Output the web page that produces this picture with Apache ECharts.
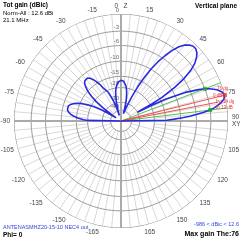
<!DOCTYPE html>
<html><head><meta charset="utf-8">
<script src="https://cdn.jsdelivr.net/npm/echarts@6/dist/echarts.min.js"></script>
<style>html,body{margin:0;padding:0;background:#fff}#c{width:240px;height:241px}</style>
</head><body><div id="c"></div>
<script>
// ---- data (theta from Z axis, degrees; total gain in dBi) ----
const thetaDeg = [-90,-89,-88,-86,-84,-82,-80,-78,-76,-74,-72,-70,-68,-66,-64,-62,-60,-58,-57,-56,-54,-52,-50,-48,-46,-44,-42,-40,-38,-36,-34,-32,-30,-28,-26,-24,-22,-20,-18,-17,-16,-14,-12,-10,-8,-6,-4,-2,0,2,4,6,8,10,12,14,16,18,20,22,24,26,28,30,32,34,36,38,40,42,44,46,48,50,52,54,56,58,60,61,62,63,64,66,68,69,70,72,74,76,78,80,82,83,84,85,86,87,88,89,90];
const gainDbi = [-98.6,-7.4,-5.4,-2.9,-1.2,0.0,0.7,1.1,1.2,1.1,0.6,-0.2,-1.4,-3.2,-5.7,-9.4,-15.4,-27.4,-37.4,-27.4,-14.4,-8.4,-4.9,-2.4,-0.8,0.3,0.9,1.1,1.0,0.5,-0.4,-1.7,-3.4,-5.7,-5.9,-8.4,-11.9,-16.9,-25.4,-37.4,-27.4,-17.4,-12.4,-8.9,-6.9,-5.6,-4.7,-4.2,-4.0,-4.0,-4.4,-5.2,-6.4,-8.2,-10.9,-14.9,-21.4,-32.4,-27.4,-19.4,-11.4,-5.4,-0.9,2.6,5.3,7.4,9.1,10.4,11.3,11.8,12.1,12.1,11.8,11.2,10.3,8.9,6.8,3.6,-1.4,-6.4,-17.4,-6.4,-0.4,5.4,8.4,9.6,10.4,11.6,12.3,12.6,12.3,11.6,10.4,9.6,8.3,6.8,5.1,3.1,0.6,-1.9,-98.6];
const maxGainDbi = 12.6;
const ringDb = [0,-3,-6,-10,-15,-20,-30,-40];
const ringLabels = ['0','-3','-6','-10','-15','-20','-30','-40'];
const maxDirDeg = 76;
const halfPowerDeg = [69,83];
const bwLineDeg = 79;
const markerTexts = ['76 dg','0 dB','bw 14 dg','fb 13 dB'];
const titleLines = ['Tot gain (dBic)','Norm-All : 12.6 dBi','21.1 MHz'];
const planeText = 'Vertical plane';
const fileText = 'ANTENASMHZ20-15-10 NEC4 out';
const phiText = 'Phi= 0';
const rangeText = '-986 < dBic < 12.6';
const maxText = 'Max gain The:76';

// ---- ARRL log scale ----
function arrl(db){ return Math.pow(0.89, -db/2); }
function ang(t){ return t >= 0 ? t : 360 + t; }

const FONT = 'Liberation Sans';
const series = [];

// radial grid lines
const radial = [];
for (let a = 0; a < 360; a += 5) {
  const r0 = (a % 15 === 0) ? arrl(-40) : arrl(-20);
  radial.push([r0, a], [1, a], ['-', '-']);
}
series.push({type:'line', coordinateSystem:'polar', data: radial, symbol:'none', silent:true,
  lineStyle:{color:'#d8d8d8', width:1}, connectNulls:false, z:1, animation:false});

// rings
ringDb.forEach((db, i) => {
  const pts = [];
  for (let a = 0; a <= 360; a += 2) pts.push([arrl(db), a]);
  series.push({type:'line', coordinateSystem:'polar', data: pts, symbol:'none', silent:true,
    lineStyle:{color: i === 0 ? '#777' : '#9a9a9a', width:1}, z:2, animation:false});
});

// main axes
series.push({type:'line', coordinateSystem:'polar', data:[[1,0],[1,180]], symbol:'none',
  lineStyle:{color:'#aaa', width:2}, z:3, animation:false});
series.push({type:'line', coordinateSystem:'polar', data:[[1,90],[1,270]], symbol:'none',
  lineStyle:{color:'#aaa', width:2}, z:3, animation:false});

// ring labels
series.push({type:'scatter', coordinateSystem:'polar', symbolSize:0, z:4, animation:false,
  data: ringDb.map((db, i) => ({value:[arrl(db), 0], label:{formatter: ringLabels[i]}})),
  label:{show:true, position:[-2,-1], align:'right', verticalAlign:'bottom', fontSize:6, color:'#444', fontFamily:FONT}});

// direction lines
halfPowerDeg.forEach(a => series.push({type:'line', coordinateSystem:'polar', data:[[0,a],[1,a]], symbol:'none',
  lineStyle:{color:'#55c055', width:1}, z:5, animation:false}));
series.push({type:'line', coordinateSystem:'polar', data:[[0,maxDirDeg],[1,maxDirDeg]], symbol:'none',
  lineStyle:{color:'#e85050', width:1}, z:5, animation:false});
series.push({type:'line', coordinateSystem:'polar', data:[[0,bwLineDeg],[0.92,bwLineDeg]], symbol:'none',
  lineStyle:{color:'#e85050', width:1}, z:5, animation:false});

// pattern
series.push({type:'line', coordinateSystem:'polar', symbol:'none', z:6, animation:false,
  data: thetaDeg.map((t, i) => [arrl(gainDbi[i] - maxGainDbi), ang(t)]),
  lineStyle:{color:'#2a2ae0', width:1.6}});

// markers
series.push({type:'scatter', coordinateSystem:'polar', symbol:'rect', symbolSize:4, z:7, animation:false,
  itemStyle:{color:'#22aa22'}, data: halfPowerDeg.map(a => [arrl(-3), a])});
series.push({type:'scatter', coordinateSystem:'polar', symbol:'rect', symbolSize:4, z:7, animation:false,
  itemStyle:{color:'#ee2222'}, data: [[1, maxDirDeg]]});

const chart = echarts.init(document.getElementById('c'), null, {renderer:'canvas'});
chart.setOption({
  animation:false,
  polar:{center:[121,121], radius:107},
  radiusAxis:{type:'value', min:0, max:1, show:false},
  angleAxis:{type:'value', min:0, max:360, interval:15, startAngle:90, clockwise:true,
    axisLine:{show:false}, axisTick:{show:false}, splitLine:{show:false},
    axisLabel:{margin:4, fontSize:6.5, color:'#444', fontFamily:FONT,
      formatter: v => {
        if (v === 360 || v === 180) return '';
        if (v === 0) return '0   Z';
        if (v === 90) return '90\nXY';
        if (v > 180) return '-' + (360 - v);
        return String(v);
      }}},
  series: series,
  graphic: [
    {type:'text', left:3, top:2, style:{text:titleLines[0], font:'bold 6.5px '+FONT, fill:'#000'}},
    {type:'text', left:3, top:10, style:{text:titleLines[1], font:'6px '+FONT, fill:'#000'}},
    {type:'text', left:3, top:17, style:{text:titleLines[2], font:'6px '+FONT, fill:'#000'}},
    {type:'text', right:3, top:3, style:{text:planeText, font:'bold 6.5px '+FONT, fill:'#000'}},
    {type:'text', left:3, top:224, style:{text:fileText, font:'5.5px '+FONT, fill:'#3344dd'}},
    {type:'text', left:3, top:232, style:{text:phiText, font:'bold 6.5px '+FONT, fill:'#000'}},
    {type:'text', right:1, top:221, style:{text:rangeText, font:'5.5px '+FONT, fill:'#3344dd'}},
    {type:'text', right:1, top:231, style:{text:maxText, font:'bold 7px '+FONT, fill:'#000'}},
    {type:'text', left:217, top:86, z:10, style:{text:markerTexts[0], font:'4.5px '+FONT, fill:'#ee3333'}},
    {type:'text', left:213, top:93, z:10, style:{text:markerTexts[1], font:'4.5px '+FONT, fill:'#ee3333'}},
    {type:'text', left:216, top:99, z:10, style:{text:markerTexts[2], font:'4.5px '+FONT, fill:'#ee3333'}},
    {type:'text', left:216, top:105, z:10, style:{text:markerTexts[3], font:'4.5px '+FONT, fill:'#ee3333'}}
  ]
});
</script></body></html>
